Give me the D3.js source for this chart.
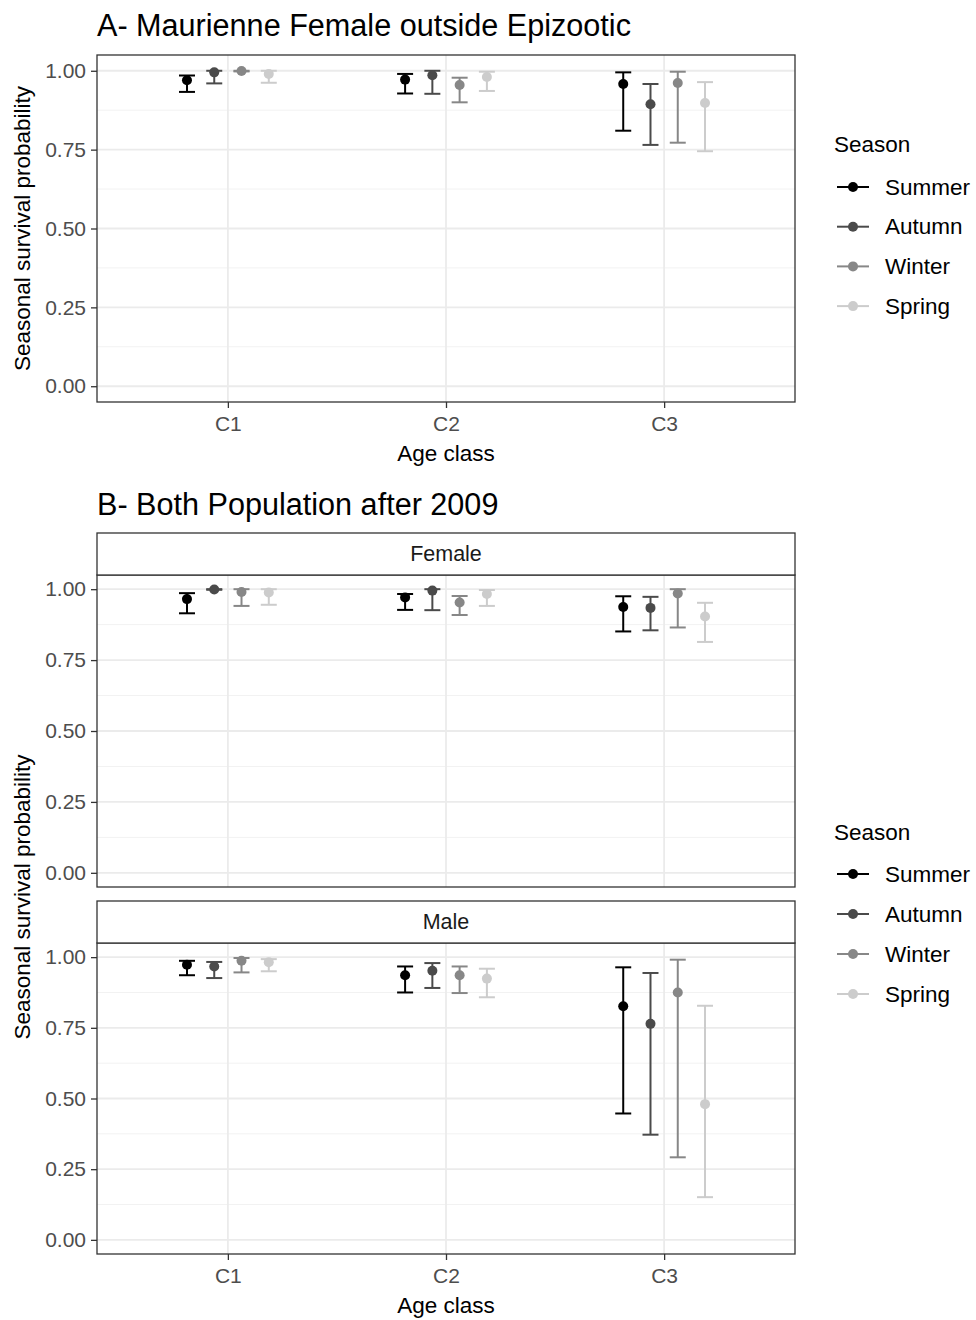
<!DOCTYPE html>
<html>
<head>
<meta charset="utf-8">
<script src="https://cdn.jsdelivr.net/npm/d3@7"></script>
<style>
  html, body { margin: 0; padding: 0; background: #fff; }
  text { font-family: "Liberation Sans", Arial, sans-serif; }
</style>
</head>
<body>
<svg id="chart" width="976" height="1320"></svg>
<script>
// ---------------- DATA ----------------
const ageClasses = ["C1", "C2", "C3"];
const seasons = ["Summer", "Autumn", "Winter", "Spring"];
const seasonColors = ["#000000", "#4a4a4a", "#878787", "#cccccc"];
const yTicks = [0, 0.25, 0.5, 0.75, 1];
const yMinorTicks = [0.125, 0.375, 0.625, 0.875];

// values ordered by age class, then season (Summer, Autumn, Winter, Spring)
const mauEst   = [0.970, 0.995, 0.999, 0.990,  0.972, 0.986, 0.955, 0.980,  0.958, 0.894, 0.961, 0.898];
const mauLower = [0.933, 0.960, 0.998, 0.962,  0.928, 0.927, 0.900, 0.936,  0.810, 0.765, 0.772, 0.745];
const mauUpper = [0.985, 1.000, 1.000, 1.000,  0.990, 1.000, 0.978, 0.997,  0.995, 0.958, 0.997, 0.964];

const femEst   = [0.965, 0.999, 0.990, 0.988,  0.971, 0.995, 0.953, 0.983,  0.937, 0.934, 0.985, 0.904];
const femLower = [0.915, 0.998, 0.941, 0.945,  0.927, 0.926, 0.909, 0.941,  0.851, 0.855, 0.865, 0.814];
const femUpper = [0.986, 1.000, 1.000, 1.000,  0.983, 1.000, 0.976, 0.997,  0.975, 0.973, 1.000, 0.952];

const malEst   = [0.973, 0.967, 0.987, 0.982,  0.936, 0.952, 0.936, 0.924,  0.826, 0.764, 0.875, 0.480];
const malLower = [0.936, 0.926, 0.946, 0.950,  0.875, 0.891, 0.873, 0.858,  0.447, 0.372, 0.292, 0.151];
const malUpper = [0.987, 0.983, 0.997, 0.993,  0.967, 0.979, 0.967, 0.959,  0.964, 0.944, 0.991, 0.828];

// ---------------- DRAW ----------------
const svg = d3.select("#chart");
svg.append("rect").attr("width", 976).attr("height", 1320).attr("fill", "#fff");

const X0 = 97, X1 = 795;
const x = d3.scalePoint().domain(ageClasses).range([X0, X1]).padding(0.6);
const step = x.step();
const dodge = d3.scaleBand().domain(seasons).range([-0.25 * step, 0.25 * step]);
const colorScale = d3.scaleOrdinal().domain(seasons).range(seasonColors);
const capHalf = 8;
const FONT = '"Liberation Sans", Arial, sans-serif';

function buildRows(est, lo, hi) {
  const rows = [];
  ageClasses.forEach((c, i) => seasons.forEach((s, j) => {
    const k = i * seasons.length + j;
    rows.push({ cls: c, season: s, est: est[k], lo: lo[k], hi: hi[k] });
  }));
  return rows;
}

function drawPanel(top, bottom, rows, showXAxis) {
  const y = d3.scaleLinear().domain([-0.05, 1.05]).range([bottom, top]);
  const g = svg.append("g");
  g.selectAll(".minor").data(yMinorTicks).enter().append("line")
    .attr("x1", X0).attr("x2", X1)
    .attr("y1", d => y(d)).attr("y2", d => y(d))
    .attr("stroke", "#f2f2f2").attr("stroke-width", 1);
  g.selectAll(".major").data(yTicks).enter().append("line")
    .attr("x1", X0).attr("x2", X1)
    .attr("y1", d => y(d)).attr("y2", d => y(d))
    .attr("stroke", "#ebebeb").attr("stroke-width", 1.8);
  g.selectAll(".vmajor").data(ageClasses).enter().append("line")
    .attr("x1", d => x(d)).attr("x2", d => x(d))
    .attr("y1", top).attr("y2", bottom)
    .attr("stroke", "#ebebeb").attr("stroke-width", 1.8);

  const px = d => x(d.cls) + dodge(d.season) + dodge.bandwidth() / 2;
  const eb = g.selectAll(".eb").data(rows).enter().append("g");
  eb.append("line").attr("x1", px).attr("x2", px)
    .attr("y1", d => y(d.lo)).attr("y2", d => y(d.hi))
    .attr("stroke", d => colorScale(d.season)).attr("stroke-width", 2);
  eb.append("line").attr("x1", d => px(d) - capHalf).attr("x2", d => px(d) + capHalf)
    .attr("y1", d => y(d.lo)).attr("y2", d => y(d.lo))
    .attr("stroke", d => colorScale(d.season)).attr("stroke-width", 2);
  eb.append("line").attr("x1", d => px(d) - capHalf).attr("x2", d => px(d) + capHalf)
    .attr("y1", d => y(d.hi)).attr("y2", d => y(d.hi))
    .attr("stroke", d => colorScale(d.season)).attr("stroke-width", 2);
  eb.append("circle").attr("cx", px).attr("cy", d => y(d.est)).attr("r", 5)
    .attr("fill", d => colorScale(d.season));

  g.append("rect").attr("x", X0).attr("y", top).attr("width", X1 - X0).attr("height", bottom - top)
    .attr("fill", "none").attr("stroke", "#333333").attr("stroke-width", 1.3);

  const ya = g.append("g").attr("transform", `translate(${X0},0)`)
    .call(d3.axisLeft(y).tickValues(yTicks).tickFormat(d3.format(".2f")).tickSize(6).tickPadding(5));
  ya.select(".domain").remove();
  ya.selectAll(".tick line").attr("stroke", "#333333").attr("stroke-width", 1.3);
  ya.selectAll(".tick text").attr("fill", "#4d4d4d").style("font-size", "21px").style("font-family", FONT);

  if (showXAxis) {
    const xa = g.append("g").attr("transform", `translate(0,${bottom})`)
      .call(d3.axisBottom(x).tickSize(6).tickPadding(8));
    xa.select(".domain").remove();
    xa.selectAll(".tick line").attr("stroke", "#333333").attr("stroke-width", 1.3);
    xa.selectAll(".tick text").attr("fill", "#4d4d4d").style("font-size", "21px").style("font-family", FONT);
  }
}

function drawStrip(top, bottom, label) {
  svg.append("rect").attr("x", X0).attr("y", top).attr("width", X1 - X0).attr("height", bottom - top)
    .attr("fill", "#ffffff").attr("stroke", "#333333").attr("stroke-width", 1.3);
  svg.append("text").attr("x", (X0 + X1) / 2).attr("y", (top + bottom) / 2)
    .attr("text-anchor", "middle").attr("dominant-baseline", "central")
    .style("font-size", "21.5px").attr("fill", "#1a1a1a").text(label);
}

function drawLegend(titleY, firstY, gap) {
  svg.append("text").attr("x", 834).attr("y", titleY).attr("dominant-baseline", "central")
    .style("font-size", "22.5px").attr("fill", "#000").text("Season");
  seasons.forEach((s, i) => {
    const yy = firstY + i * gap;
    svg.append("line").attr("x1", 837).attr("x2", 869).attr("y1", yy).attr("y2", yy)
      .attr("stroke", colorScale(s)).attr("stroke-width", 2);
    svg.append("circle").attr("cx", 853).attr("cy", yy).attr("r", 5).attr("fill", colorScale(s));
    svg.append("text").attr("x", 885).attr("y", yy).attr("dominant-baseline", "central")
      .style("font-size", "22.5px").attr("fill", "#000").text(s);
  });
}

function axisTitles(xTitleY, yTitleCenter) {
  svg.append("text").attr("x", (X0 + X1) / 2).attr("y", xTitleY)
    .attr("text-anchor", "middle").attr("dominant-baseline", "central")
    .style("font-size", "22.5px").attr("fill", "#000").text("Age class");
  svg.append("text").attr("transform", `translate(22,${yTitleCenter}) rotate(-90)`)
    .attr("text-anchor", "middle").attr("dominant-baseline", "central")
    .style("font-size", "22.5px").attr("fill", "#000").text("Seasonal survival probability");
}

// Panel A
svg.append("text").attr("x", 97).attr("y", 25).attr("dominant-baseline", "central")
  .style("font-size", "30.6px").attr("fill", "#000").text("A- Maurienne Female outside Epizootic");
drawPanel(55, 402, buildRows(mauEst, mauLower, mauUpper), true);
axisTitles(453, 228.5);
drawLegend(144, 187, 39.7);

// Panel B
svg.append("text").attr("x", 97).attr("y", 504).attr("dominant-baseline", "central")
  .style("font-size", "30.6px").attr("fill", "#000").text("B- Both Population after 2009");
drawPanel(575, 887, buildRows(femEst, femLower, femUpper), false);
drawStrip(533, 575, "Female");
drawPanel(943, 1254, buildRows(malEst, malLower, malUpper), true);
drawStrip(901, 943, "Male");
axisTitles(1305, 897);
drawLegend(832, 874, 40);
</script>
</body>
</html>
